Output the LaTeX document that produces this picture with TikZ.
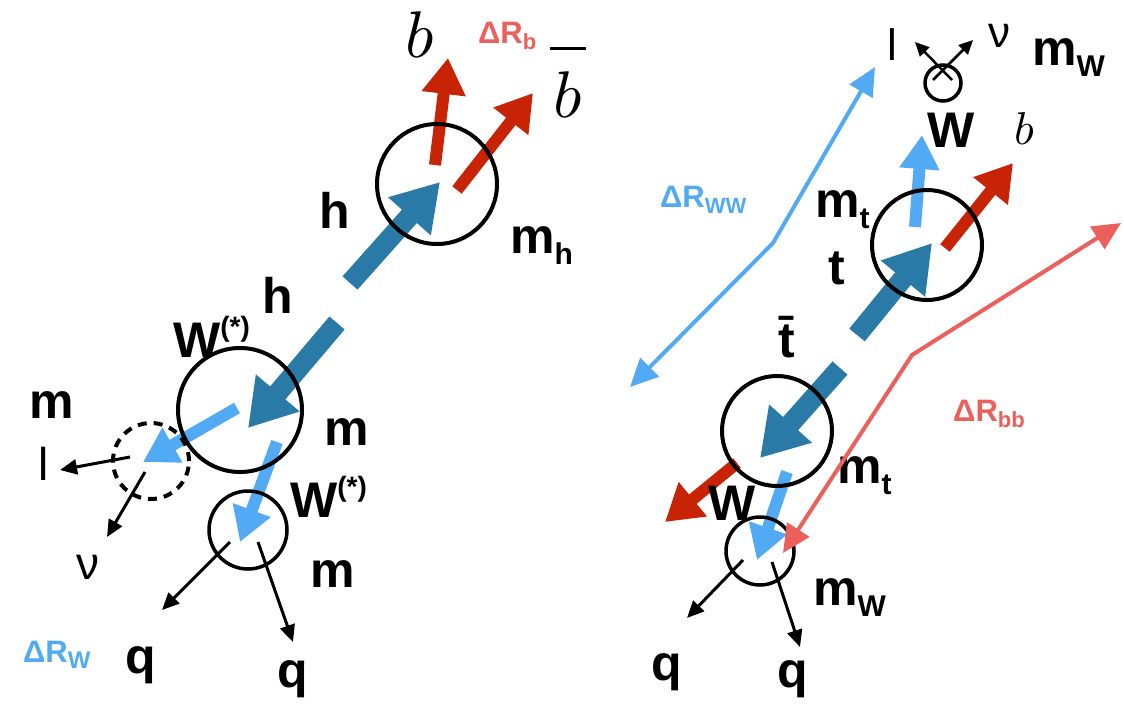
\documentclass[tikz,border=0pt]{standalone}
\usepackage{graphicx}
\usepackage{fontspec}
\setmainfont{Liberation Sans}
\usetikzlibrary{arrows.meta}

\definecolor{hblue}{RGB}{42,122,168}
\definecolor{wblue}{RGB}{82,170,245}
\definecolor{bred}{RGB}{200,35,5}
\definecolor{drred}{RGB}{236,96,92}

\newcommand{\lsub}[2][30]{\raisebox{-0.22em}{\fontsize{#1}{#1}\selectfont #2}}
\newcommand{\lsup}[1]{\raisebox{0.42em}{\fontsize{28}{28}\selectfont #1}}

\tikzset{
  heavy/.style={hblue, line width=20pt, -{Triangle[width=54pt,length=46pt]}},
  wline/.style={wblue, line width=12pt, -{Triangle[width=38pt,length=34pt]}},
  bline/.style={bred, line width=12pt, -{Triangle[width=42pt,length=36pt]}},
  decay/.style={black, line width=3pt, -{Triangle[width=15pt,length=17pt]}},
  drline/.style={line width=4pt, {Triangle[width=26pt,length=28pt]}-{Triangle[width=26pt,length=28pt]}},
  vtx/.style={circle, draw, line width=4pt, inner sep=0pt},
  lbl/.style={font=\fontsize{50}{50}\selectfont\bfseries, inner sep=0pt},
  lite/.style={font=\fontsize{46}{46}\selectfont, inner sep=0pt},
  mlbl/.style={font=\normalsize, inner sep=0pt},
  dr/.style={font=\fontsize{31}{31}\selectfont\bfseries, inner sep=0pt, anchor=base west},
}

\begin{document}
\begin{tikzpicture}[x=1pt,y=-1pt]
\useasboundingbox (0,0) rectangle (1124,705);

% h -> b bbar, h -> W W(*)
\draw[heavy] (350,283) -- (440,182);
\draw[heavy] (337,323) -- (248,428);
\draw[bline] (435,165) -- (448,58);
\draw[bline] (457,190) -- (533,93);
\draw[wline] (237,408) -- (143,462);
\draw[wline] (277,442) -- (240,542);
\draw[decay] (130,457) -- (60,470);
\draw[decay] (145,472) -- (107,537);
\draw[decay] (230,542) -- (162,610);
\draw[decay] (258,542) -- (293,642);

\node[vtx, minimum size=120pt] (hvtx) at (437,184) {};
\node[vtx, minimum size=124pt] (wvtx) at (240,410) {};
\node[vtx, dash pattern=on 9pt off 7pt, minimum size=76pt] (lvvtx) at (151,461) {};
\node[vtx, line width=3.5pt, minimum size=78pt] (qqvtx) at (248,530) {};

\node[mlbl] (b1) at (420,35) {\scalebox{6.6}{$b$}};
\node[mlbl, anchor=base] (bb1) at (568,117) {\scalebox{6.6}{$\overline{\rule{0pt}{0.9em}\mkern1mu b\mkern1mu}$}};
\node[dr, text=drred] (drb) at (478,43) {ΔR\lsub[22]{b}};
\node[lbl, anchor=base west] (mh) at (510,253) {m\lsub{h}};
\node[lbl] (h1) at (335,210) {h};
\node[lbl] (h2) at (278,295) {h};
\node[lbl, anchor=base west] (w1) at (173,357) {W\lsup{(*)}};
\node[lbl] (m1) at (52,405) {m};
\node[lite] (l1) at (44,464) {l};
\node[lite] (v1) at (88,567) {ν};
\node[lbl] (m2) at (347,432) {m};
\node[lbl, anchor=base west] (w2) at (290,517) {W\lsup{(*)}};
\node[lbl] (m3) at (333,574) {m};
\node[lbl] (q1) at (141,665) {q};
\node[lbl] (q2) at (293,679) {q};
\node[dr, text=wblue] (drw) at (23,662) {ΔR\lsub[24]{W}};

% t tbar
\draw[heavy] (857,335) -- (932,243);
\draw[heavy] (840,368) -- (760,458);
\draw[wline] (915,227) -- (922,135);
\draw[bline] (945,248) -- (1013,163);
\draw[bline] (737,463) -- (665,522);
\draw[wline] (787,472) -- (757,560);
\draw[decay, line width=2.5pt, -{Triangle[width=13pt,length=14pt]}] (952,80) -- (915,42);
\draw[decay, line width=2.5pt, -{Triangle[width=13pt,length=14pt]}] (933,80) -- (973,40);
\draw[decay] (743,560) -- (687,618);
\draw[decay] (772,562) -- (800,647);

\node[vtx, minimum size=110pt] (tvtx) at (927,245) {};
\node[vtx, minimum size=110pt] (tbvtx) at (777,431) {};
\node[vtx, line width=3.5pt, minimum size=36pt] (lvvtx2) at (943,83) {};
\node[vtx, line width=3.5pt, minimum size=68pt] (qqvtx2) at (760,551) {};

\node[lite, font=\fontsize{44}{44}\selectfont] (l2) at (892,45) {l};
\node[lite, font=\fontsize{44}{44}\selectfont] (v2) at (999,36) {ν};
\node[lbl, anchor=base west] (mw1) at (1032,65) {m\lsub{W}};
\node[lbl] (w3) at (951,130) {W};
\node[mlbl] (b2) at (1024,129) {\scalebox{4.6}{$b$}};
\node[lbl, anchor=base west] (mt1) at (815,217) {m\lsub{t}};
\node[lbl] (t1) at (837,268) {t};
\node[lbl, anchor=base] (t2) at (787,357) {\=t};
\node[lbl, anchor=base west] (mt2) at (837,483) {m\lsub{t}};
\node[lbl] (w4) at (732,503) {W};
\node[lbl, anchor=base west] (mw2) at (813,605) {m\lsub{W}};
\node[lbl] (q3) at (667,672) {q};
\node[lbl] (q4) at (793,679) {q};
\node[dr, text=wblue] (drww) at (660,207) {ΔR\lsub[22]{WW}};
\node[dr, text=drred] (drbb) at (953,421) {ΔR\lsub[22]{bb}};

\draw[drline, wblue] (630,387) -- (773,243) -- (875,67);
\draw[drline, drred] (1121,223) -- (912,355) -- (783,553);
\end{tikzpicture}
\end{document}
